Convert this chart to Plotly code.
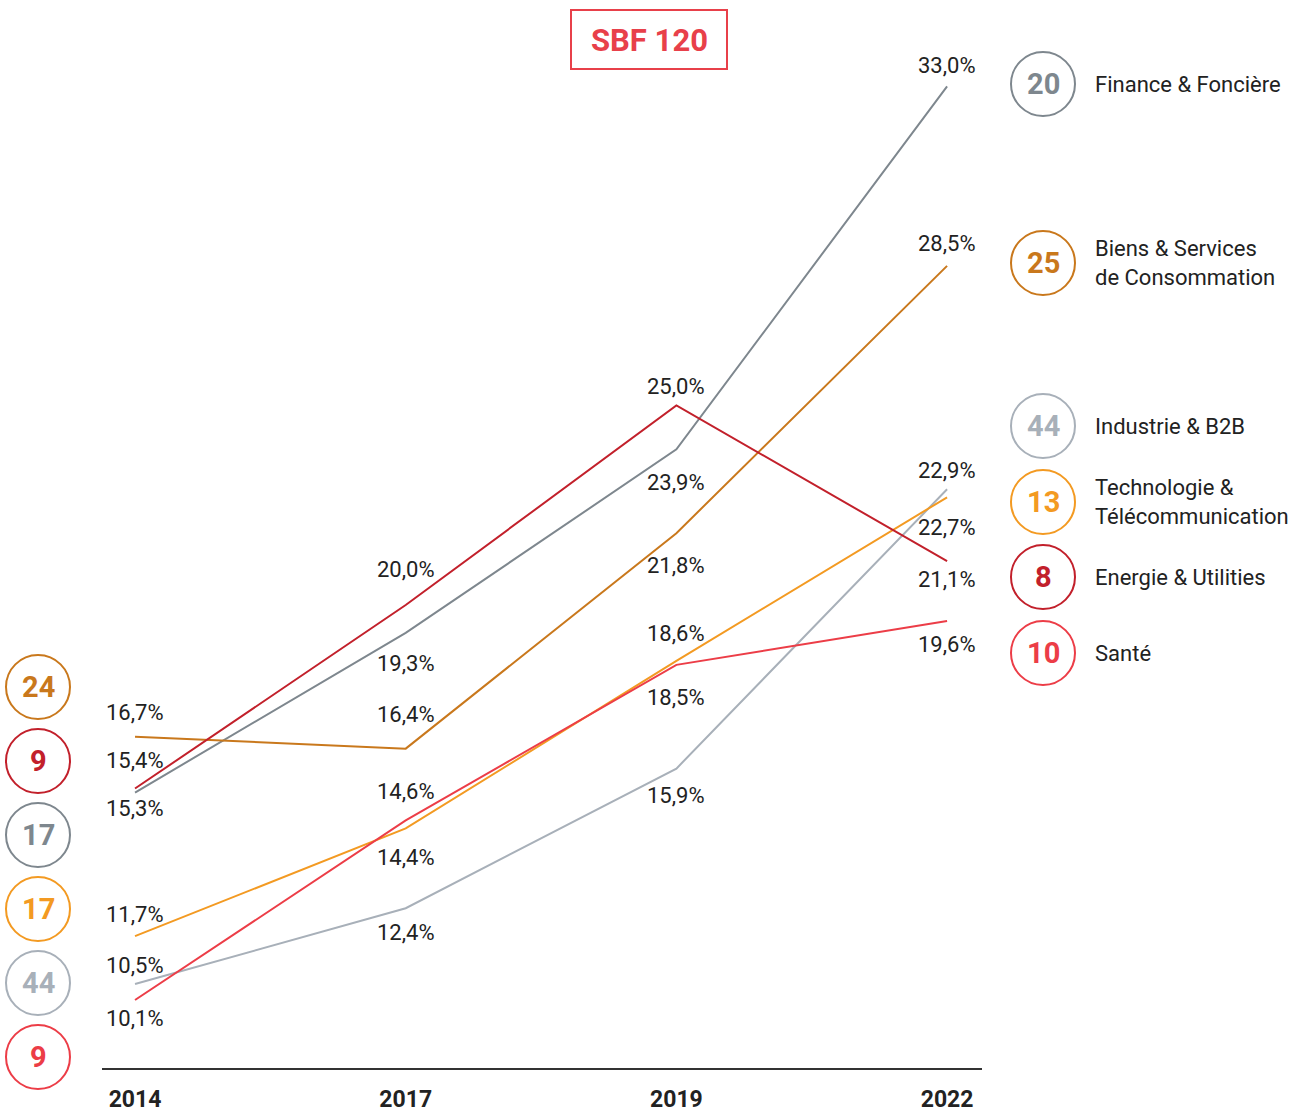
import plotly.graph_objects as go

years = ["2014", "2017", "2019", "2022"]

series_names = ["Finance & Foncière", "Biens & Services<br>de Consommation", "Industrie & B2B",
                "Technologie &<br>Télécommunication", "Energie & Utilities", "Santé"]
finance = [15.3, 19.3, 23.9, 33.0]
biens = [16.7, 16.4, 21.8, 28.5]
industrie = [10.5, 12.4, 15.9, 22.9]
techno = [11.7, 14.4, 18.6, 22.7]
energie = [15.4, 20.0, 25.0, 21.1]
sante = [10.1, 14.6, 18.5, 19.6]

counts_2022 = [20, 25, 44, 13, 8, 10]           # right column (per series order)
counts_2014 = [24, 9, 17, 17, 44, 9]            # left column, top to bottom
left_order = [1, 4, 0, 3, 2, 5]                 # series index for each left circle

colors = ["#7e878e", "#c9781c", "#a8b0b9", "#f39a22", "#c2202b", "#ec3d47"]
values = [finance, biens, industrie, techno, energie, sante]

# label pixel offsets (positive = up)
label_shift = [
    [-16, -31, -33, 21],    # finance
    [24, 34, -32, 22],      # biens
    [19, -24, -27, 19],     # industrie
    [22, -29, 27, -30],     # techno
    [28, 36, 19, -18],      # energie
    [-18, 29, -33, -24],    # sante
]

W, H = 1303, 1112
L, R, T, B = 102, 982, 60, 1068

def px(x):
    return (x - L) / (R - L)

def py(y):
    return (B - y) / (B - T)

FONT = "Roboto"
fig = go.Figure()

for name, vals, col in zip(series_names, values, colors):
    fig.add_trace(go.Scatter(x=years, y=vals, mode="lines", name=name,
                             line=dict(color=col, width=2), hoverinfo="skip",
                             showlegend=False))

annotations = []
for i, vals in enumerate(values):
    for j, v in enumerate(vals):
        annotations.append(dict(
            x=j, y=v, xref="x", yref="y", showarrow=False,
            xanchor="center", yanchor="middle",
            text=f"{v:.1f}%".replace(".", ","),
            yshift=label_shift[i][j],
            font=dict(family=FONT, size=22, color="#222222"),
        ))

shapes = []
# title box
shapes.append(dict(type="rect", xref="paper", yref="paper",
                   x0=px(571), x1=px(727), y0=py(69), y1=py(10),
                   line=dict(color="#e8404a", width=2), fillcolor="white"))
annotations.append(dict(x=px(649), y=py(40), xref="paper", yref="paper", showarrow=False,
                        xanchor="center", yanchor="middle",
                        text="<b>SBF 120</b>", font=dict(family=FONT, size=31, color="#e8404a")))

def circle(cx, cy, col, num):
    shapes.append(dict(type="circle", xref="paper", yref="paper",
                       xsizemode="pixel", ysizemode="pixel",
                       xanchor=px(cx), yanchor=py(cy),
                       x0=-32, x1=32, y0=-32, y1=32,
                       line=dict(color=col, width=2), fillcolor="white"))
    annotations.append(dict(x=px(cx), y=py(cy), xref="paper", yref="paper", showarrow=False,
                            xanchor="center", yanchor="middle",
                            text=f"<b>{num}</b>", font=dict(family=FONT, size=29, color=col)))

# left circles
for k, (idx, n) in enumerate(zip(left_order, counts_2014)):
    circle(38, 687 + 74 * k, colors[idx], n)

# right circles + labels
right_y = [84, 263, 426, 502, 577, 653]
for idx, (n, name) in enumerate(zip(counts_2022, series_names)):
    circle(1043, right_y[idx], colors[idx], n)
    annotations.append(dict(x=px(1093), y=py(right_y[idx]), xref="paper", yref="paper",
                            showarrow=False, xanchor="left", yanchor="middle", align="left",
                            text=name, font=dict(family=FONT, size=22, color="#222222")))

fig.update_layout(
    width=W, height=H,
    margin=dict(l=L, r=W - R, t=T, b=H - B),
    paper_bgcolor="white", plot_bgcolor="white",
    shapes=shapes, annotations=annotations,
    xaxis=dict(type="category", range=[-0.122, 3.129], showgrid=False, zeroline=False,
               showline=True, linecolor="#333333", linewidth=1.5, ticks="",
               automargin=False,
               tickfont=dict(family=FONT, size=23, color="#222222", weight="bold"),
               ticklabelstandoff=10),
    yaxis=dict(range=[8.396, 33.659], showgrid=False, zeroline=False, showline=False,
               showticklabels=False, automargin=False),
)

fig.write_html("out.html", config={"displayModeBar": False},
               post_script="document.body.style.margin='0';")
